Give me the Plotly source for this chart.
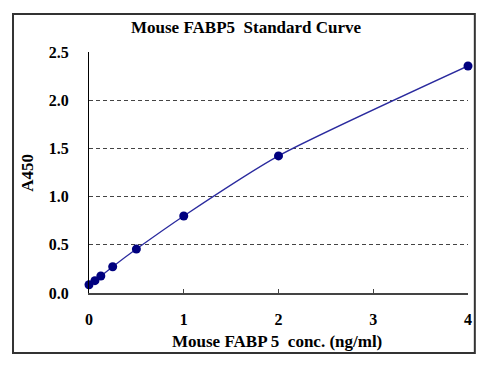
import plotly.graph_objects as go

conc = [0, 0.0625, 0.125, 0.25, 0.5, 1, 2, 4]
a450 = [0.086, 0.128, 0.176, 0.273, 0.456, 0.80, 1.424, 2.358]
x_ticks = [0, 1, 2, 3, 4]
y_ticks = [0.0, 0.5, 1.0, 1.5, 2.0, 2.5]

font_family = "Liberation Serif, Times New Roman, serif"

fig = go.Figure()
fig.add_trace(go.Scatter(
    x=conc, y=a450, mode="lines+markers",
    line=dict(color="#2a2a9e", width=1.3, shape="spline", smoothing=0.6),
    marker=dict(color="#00007f", size=9),
    cliponaxis=False, showlegend=False,
))

fig.update_layout(
    width=500, height=366,
    margin=dict(l=89, r=32, t=52, b=73),
    paper_bgcolor="white", plot_bgcolor="white",
    font=dict(family=font_family, color="black"),
    xaxis=dict(
        range=[0, 4], tickvals=x_ticks, ticktext=[str(v) for v in x_ticks],
        showgrid=False, zeroline=False, showline=True, linecolor="#444", linewidth=1.5,
        ticks="inside", ticklen=4, tickcolor="#444", automargin=False,
        tickfont=dict(size=16, family=font_family, weight="bold"),
        ticklabelstandoff=11,
    ),
    yaxis=dict(
        range=[0, 2.503], tickvals=y_ticks, ticktext=[f"{v:.1f}" for v in y_ticks],
        showgrid=True, gridcolor="#444", griddash="4px,3px", gridwidth=1,
        zeroline=False, showline=True, linecolor="black", linewidth=1.2,
        ticks="", automargin=False,
        tickfont=dict(size=16, family=font_family, weight="bold"),
        ticklabelstandoff=16,
    ),
    shapes=[dict(type="rect", xref="paper", yref="paper",
                 x0=-0.2005, x1=1.018, y0=-0.249, y1=1.158,
                 line=dict(color="#333", width=2), layer="below")],
    annotations=[
        dict(text="Mouse FABP5  Standard Curve", xref="paper", yref="paper",
             x=0.4156, y=1.1, xanchor="center", yanchor="middle", showarrow=False,
             font=dict(size=17, family=font_family, weight="bold")),
        dict(text="Mouse FABP 5  conc. (ng/ml)", xref="paper", yref="paper",
             x=0.497, y=-0.2, xanchor="center", yanchor="middle", showarrow=False,
             font=dict(size=17, family=font_family, weight="bold")),
        dict(text="A450", xref="paper", yref="paper", textangle=-90,
             x=-0.163, y=0.5, xanchor="center", yanchor="middle", showarrow=False,
             font=dict(size=17, family=font_family, weight="bold")),
    ],
)

fig.write_html("out.html", config={"displayModeBar": False},
               post_script="document.body.style.margin='0';")
